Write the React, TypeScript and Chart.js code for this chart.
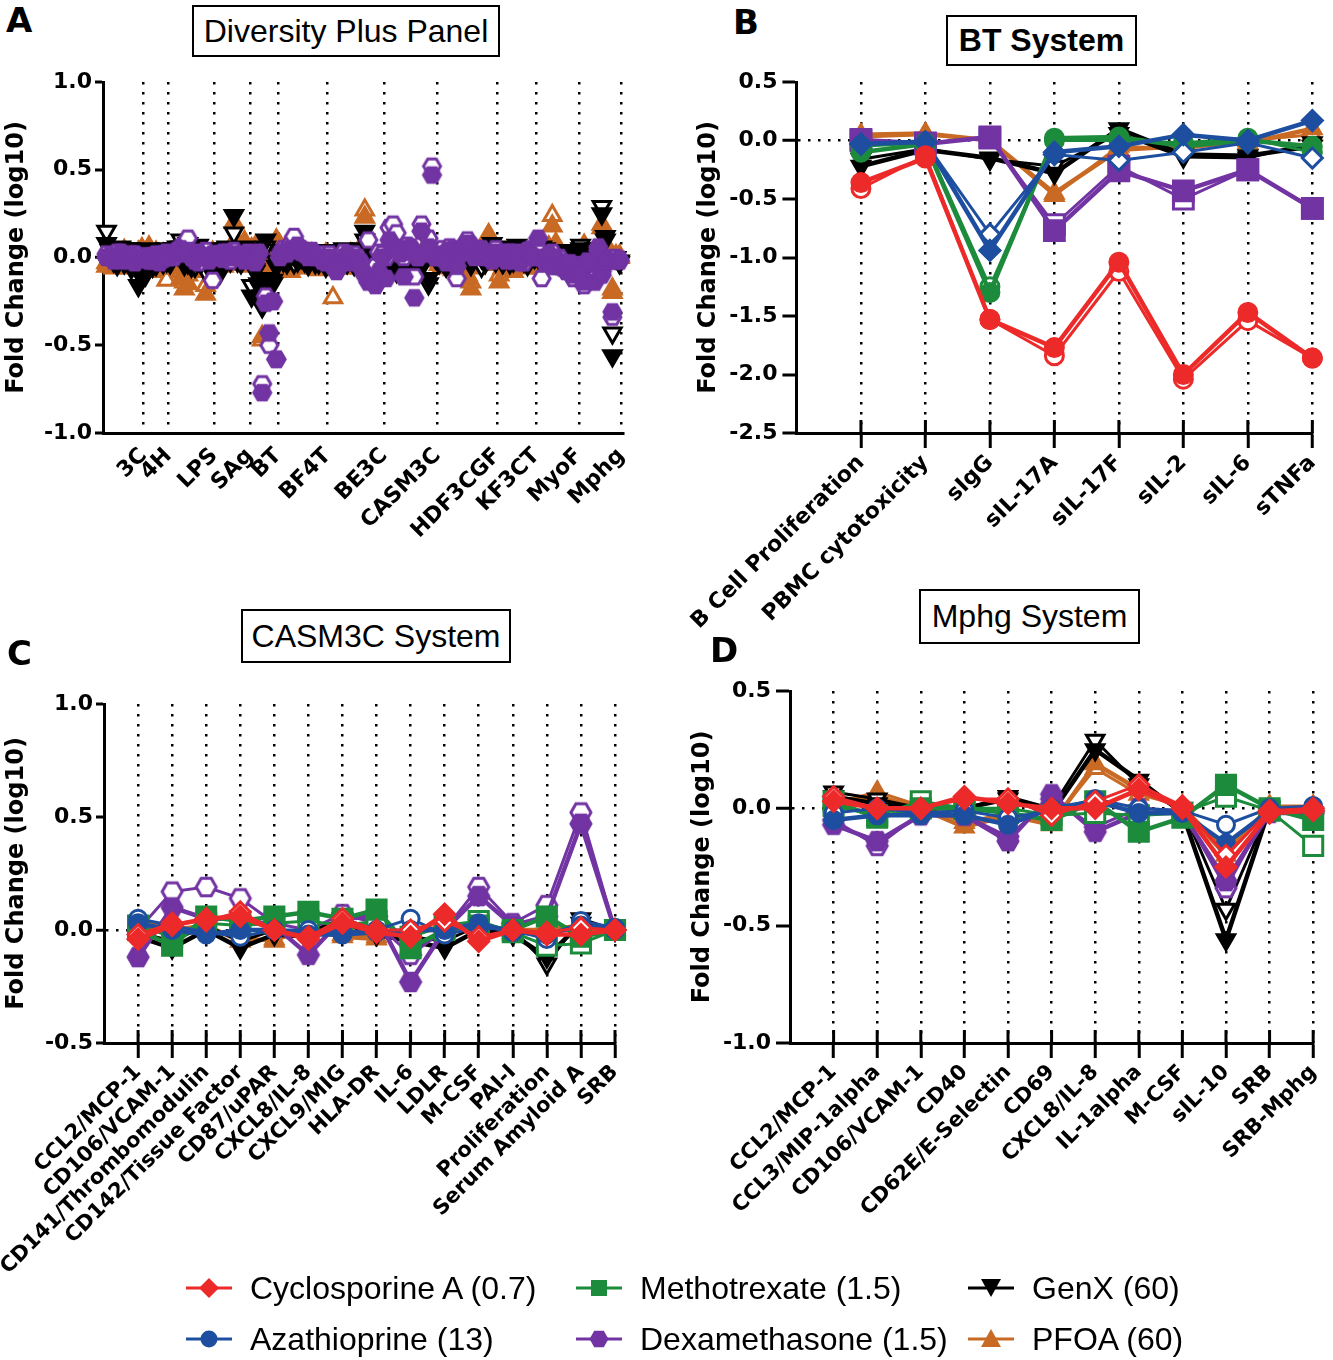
import React, { useEffect, useRef } from 'react';
import { Chart, registerables } from 'chart.js';
Chart.register(...registerables);

const RED = '#ED2A2A';
const BLUE = '#1D4E9F';
const GREEN = '#1C8B3B';
const PURPLE = '#7233A3';
const BLACK = '#000000';
const ORANGE = '#C96A24';

// ---------- categories ----------
const A_SYSTEMS = ['3C', '4H', 'LPS', 'SAg', 'BT', 'BF4T', 'BE3C', 'CASM3C', 'HDF3CGF', 'KF3CT', 'MyoF', 'Mphg'];
const B_CATS = ['B Cell Proliferation', 'PBMC cytotoxicity', 'sIgG', 'sIL-17A', 'sIL-17F', 'sIL-2', 'sIL-6', 'sTNFa'];
const C_CATS = ['CCL2/MCP-1', 'CD106/VCAM-1', 'CD141/Thrombomodulin', 'CD142/Tissue Factor', 'CD87/uPAR', 'CXCL8/IL-8', 'CXCL9/MIG', 'HLA-DR', 'IL-6', 'LDLR', 'M-CSF', 'PAI-I', 'Proliferation', 'Serum Amyloid A', 'SRB'];
const D_CATS = ['CCL2/MCP-1', 'CCL3/MIP-1alpha', 'CD106/VCAM-1', 'CD40', 'CD62E/E-Selectin', 'CD69', 'CXCL8/IL-8', 'IL-1alpha', 'M-CSF', 'sIL-10', 'SRB', 'SRB-Mphg'];

const Y_A = [-1.0, 1.0];
const Y_B = [-2.5, 0.5];
const Y_C = [-0.5, 1.0];
const Y_D = [-1.0, 0.5];

// ---------- BT system (F = filled replicate, O = open replicate) ----------
const BT_CSA_F = [-0.36, -0.15, -1.53, -1.77, -1.04, -2.0, -1.47, -1.86];
const BT_CSA_O = [-0.41, -0.13, -1.53, -1.84, -1.12, -2.04, -1.54, -1.86];
const BT_AZA_F = [-0.03, -0.01, -0.94, -0.1, -0.05, 0.05, 0.0, 0.17];
const BT_AZA_O = [-0.03, -0.02, -0.8, -0.12, -0.17, -0.1, -0.02, -0.15];
const BT_MTX_F = [-0.1, -0.03, -1.3, 0.02, 0.03, -0.05, 0.0, -0.05];
const BT_MTX_O = [-0.05, -0.02, -1.25, 0.0, 0.0, -0.02, 0.02, -0.1];
const BT_DEX_F = [0.0, -0.03, 0.03, -0.77, -0.26, -0.43, -0.25, -0.58];
const BT_DEX_O = [0.01, -0.02, 0.02, -0.72, -0.22, -0.5, -0.25, -0.58];
const BT_GENX_F = [-0.22, -0.08, -0.15, -0.28, 0.1, -0.12, -0.13, -0.05];
const BT_GENX_O = [-0.16, -0.07, -0.16, -0.22, 0.06, -0.14, -0.15, -0.02];
const BT_PFOA_F = [0.05, 0.06, 0.0, -0.45, -0.08, -0.05, -0.02, 0.1];
const BT_PFOA_O = [0.03, 0.05, 0.0, -0.47, -0.05, -0.07, 0.0, 0.05];

// ---------- CASM3C system ----------
const CAS_CSA_F = [-0.04, 0.02, 0.05, 0.06, 0.0, -0.04, 0.03, -0.01, -0.03, 0.07, -0.05, 0.0, -0.02, -0.02, 0.0];
const CAS_CSA_O = [-0.02, 0.03, 0.04, 0.08, 0.0, -0.03, 0.05, 0.0, 0.0, 0.04, -0.03, 0.0, -0.01, 0.01, 0.0];
const CAS_AZA_F = [0.03, 0.0, -0.02, 0.0, 0.0, -0.02, -0.02, -0.01, 0.0, 0.0, 0.03, -0.01, -0.02, 0.02, 0.0];
const CAS_AZA_O = [0.05, 0.02, -0.01, -0.03, 0.0, 0.0, -0.01, 0.0, 0.05, -0.02, 0.01, 0.0, -0.04, 0.04, 0.01];
const CAS_MTX_F = [0.0, -0.07, 0.06, 0.04, 0.06, 0.08, 0.05, 0.09, -0.08, 0.0, 0.02, 0.0, 0.06, -0.03, 0.0];
const CAS_MTX_O = [0.02, -0.03, 0.03, 0.02, 0.03, 0.04, 0.02, 0.04, -0.03, 0.02, 0.04, -0.01, -0.07, -0.06, 0.0];
const CAS_DEX_F = [-0.12, 0.1, 0.05, 0.05, 0.02, -0.11, 0.05, 0.06, -0.23, 0.0, 0.15, 0.02, 0.06, 0.47, 0.0];
const CAS_DEX_O = [0.0, 0.17, 0.19, 0.14, 0.03, 0.0, 0.07, 0.03, -0.11, 0.0, 0.19, 0.03, 0.11, 0.52, 0.0];
const CAS_GENX_F = [-0.03, -0.08, 0.0, -0.08, -0.02, -0.03, 0.03, -0.02, -0.05, -0.08, 0.0, -0.02, -0.12, 0.03, 0.0];
const CAS_GENX_O = [-0.01, -0.05, 0.02, -0.05, 0.0, -0.01, 0.05, 0.0, -0.03, -0.05, 0.02, 0.0, -0.15, 0.05, 0.0];
const CAS_PFOA_F = [0.03, 0.0, 0.02, -0.05, -0.04, 0.0, -0.03, -0.04, 0.0, 0.0, 0.0, 0.0, 0.0, 0.02, 0.0];
const CAS_PFOA_O = [0.04, 0.01, 0.0, -0.03, -0.05, 0.01, -0.02, -0.03, 0.01, 0.01, 0.02, -0.01, 0.01, 0.0, 0.0];

// ---------- Mphg system ----------
const MPH_CSA_F = [0.03, 0.0, 0.0, 0.05, 0.02, 0.0, 0.0, 0.08, 0.0, -0.25, -0.02, -0.01];
const MPH_CSA_O = [0.05, 0.0, 0.0, 0.04, 0.04, -0.03, 0.03, 0.1, 0.01, -0.2, -0.01, 0.0];
const MPH_AZA_F = [-0.05, -0.03, -0.03, -0.03, -0.07, 0.0, 0.03, -0.02, -0.02, -0.15, -0.01, 0.0];
const MPH_AZA_O = [-0.02, 0.0, -0.02, -0.01, -0.04, -0.01, 0.04, 0.0, -0.01, -0.07, 0.0, 0.01];
const MPH_MTX_F = [0.03, -0.04, 0.0, 0.0, -0.02, -0.05, 0.03, -0.1, -0.04, 0.1, 0.0, -0.05];
const MPH_MTX_O = [0.01, -0.03, 0.03, 0.0, 0.0, -0.03, -0.02, -0.03, -0.02, 0.05, -0.01, -0.16];
const MPH_DEX_F = [-0.07, -0.14, -0.03, -0.03, -0.14, 0.06, -0.1, -0.02, -0.02, -0.31, -0.02, -0.02];
const MPH_DEX_O = [-0.05, -0.16, -0.02, -0.03, -0.12, 0.04, -0.08, 0.0, -0.01, -0.34, 0.0, -0.01];
const MPH_GENX_F = [0.05, 0.02, 0.0, 0.0, 0.04, -0.02, 0.25, 0.12, -0.02, -0.56, 0.0, -0.03];
const MPH_GENX_O = [0.07, 0.04, 0.0, 0.0, 0.05, 0.0, 0.29, 0.1, 0.0, -0.43, 0.0, -0.02];
const MPH_PFOA_F = [0.03, 0.05, 0.0, -0.08, -0.03, -0.07, 0.19, 0.08, 0.0, -0.2, 0.0, 0.0];
const MPH_PFOA_O = [0.02, 0.07, 0.01, -0.06, -0.02, -0.06, 0.17, 0.06, 0.01, -0.18, 0.01, 0.01];

// ---------- Diversity Plus panel (one list per system, in A_SYSTEMS order) ----------
const DIV_DEX_F = [
  [0.0, 0.01, -0.02, 0.0, 0.03, -0.01, 0.0, 0.02, -0.03, 0.0, -0.01],
  [0.0, -0.02, 0.01, 0.0, -0.03, 0.02, 0.0],
  [0.0, 0.02, 0.03, 0.05, 0.02, 0.04, 0.0, -0.02, 0.03, 0.01, 0.0, -0.02, 0.02],
  [0.0, 0.02, -0.01, 0.03, 0.0, 0.02, 0.01, 0.0, -0.02, 0.02],
  BT_DEX_F,
  [0.0, 0.03, 0.02, 0.05, 0.04, 0.06, 0.03, 0.02, 0.0, 0.03, 0.01, 0.0, -0.02, 0.0],
  [0.0, -0.05, -0.08, -0.04, 0.0, 0.02, -0.03, 0.0, -0.02, -0.06, -0.1, -0.14, -0.12, -0.16, -0.08, 0.0],
  CAS_DEX_F,
  [0.0, 0.02, -0.03, 0.04, 0.05, -0.05, 0.03, 0.06, 0.08, 0.04, 0.0, 0.03, 0.05, 0.02, 0.0, -0.02, 0.03],
  [0.0, 0.02, -0.02, 0.03, 0.0, 0.02, -0.03, 0.0, 0.04, 0.02, 0.0],
  [0.11, 0.0, -0.03, 0.02, -0.05, 0.0, -0.04, -0.06, -0.08, -0.03, -0.1, -0.06],
  MPH_DEX_F,
];
const DIV_DEX_O = [
  [0.02, 0.0, -0.01, 0.03, 0.0, -0.02, 0.01, 0.0, 0.02, -0.01, 0.0],
  [0.01, 0.0, -0.02, 0.02, 0.0, -0.01, 0.03],
  [0.02, 0.0, 0.04, 0.06, 0.03, 0.11, 0.02, 0.0, -0.03, 0.02, 0.04, 0.0, -0.13],
  [0.02, 0.0, 0.03, 0.0, -0.02, 0.04, 0.0, 0.02, 0.0, 0.03],
  BT_DEX_O,
  [0.02, 0.05, 0.04, 0.08, 0.12, 0.07, 0.05, 0.03, 0.02, 0.04, 0.0, 0.02, 0.0, -0.03],
  [0.02, -0.02, -0.05, 0.0, 0.03, 0.0, -0.02, 0.02, 0.0, -0.03, -0.08, 0.1, -0.1, -0.05, 0.03, 0.02],
  CAS_DEX_O,
  [0.03, 0.05, 0.0, 0.06, 0.03, -0.12, 0.02, 0.05, 0.1, 0.07, 0.02, 0.05, 0.04, 0.0, 0.02, 0.0, 0.05],
  [0.02, 0.0, 0.03, 0.0, -0.02, 0.03, 0.0, -0.03, 0.02, 0.05, 0.0],
  [0.05, -0.12, 0.0, -0.02, 0.03, -0.05, 0.0, -0.03, -0.07, -0.05, -0.12, -0.04],
  MPH_DEX_O,
];
const DIV_GENX_F = [
  [0.08, 0.05, 0.0, -0.04, 0.03, -0.02, 0.05, -0.06, 0.02, -0.16, -0.1],
  [-0.1, 0.04, -0.05, 0.02, 0.0, -0.03, 0.05],
  [-0.03, 0.05, 0.02, 0.06, -0.04, 0.08, -0.05, 0.03, 0.07, -0.02, 0.04, -0.06, 0.02],
  [-0.04, -0.09, 0.03, 0.05, -0.02, 0.24, 0.05, -0.03, 0.06, 0.0],
  BT_GENX_F,
  [0.04, 0.0, -0.03, 0.02, 0.05, -0.02, 0.0, 0.03, -0.04, 0.02, 0.0, -0.03, 0.02, -0.05],
  [0.02, -0.03, 0.0, 0.04, -0.02, 0.03, 0.0, -0.04, 0.02, 0.05, 0.15, -0.08, 0.03, -0.05, 0.0, 0.03],
  CAS_GENX_F,
  [-0.03, 0.02, -0.05, 0.0, 0.03, -0.06, 0.02, 0.0, 0.05, -0.04, 0.02, 0.06, 0.0, -0.03, 0.05, 0.08, 0.02],
  [0.04, 0.0, 0.06, -0.03, 0.02, 0.07, 0.03, -0.02, 0.05, 0.0, 0.02],
  [0.03, 0.06, -0.02, 0.0, 0.04, -0.03, 0.02, 0.0, -0.04, 0.03, -0.02, 0.0],
  MPH_GENX_F,
];
const DIV_GENX_O = [
  [0.15, 0.04, -0.02, 0.0, 0.06, -0.03, 0.02, 0.05, -0.04, -0.08, 0.03],
  [-0.03, 0.05, 0.0, -0.04, 0.03, 0.0, -0.02],
  [0.0, 0.03, 0.06, 0.1, 0.02, -0.03, 0.05, -0.05, 0.04, 0.0, -0.08, 0.03, 0.05],
  [0.02, -0.05, 0.0, 0.06, 0.03, 0.14, -0.02, 0.04, 0.0, 0.05],
  BT_GENX_O,
  [0.02, -0.02, 0.03, 0.0, -0.03, 0.04, 0.02, -0.02, 0.0, 0.03, -0.03, 0.0, 0.04, -0.02],
  [0.0, 0.03, -0.02, 0.0, 0.05, -0.03, 0.02, 0.0, -0.05, 0.03, 0.1, -0.04, 0.0, -0.06, 0.02, 0.0],
  CAS_GENX_O,
  [0.0, -0.02, 0.03, -0.04, 0.0, 0.02, -0.03, 0.04, 0.0, -0.02, 0.03, 0.0, -0.05, 0.02, 0.0, 0.04, -0.02],
  [0.02, -0.03, 0.04, 0.0, -0.02, 0.05, 0.0, 0.03, -0.04, 0.02, 0.0],
  [0.0, 0.03, 0.05, -0.03, 0.0, 0.02, -0.02, 0.04, 0.0, -0.03, 0.02, -0.05],
  MPH_GENX_O,
];
const DIV_PFOA_F = [
  [-0.05, 0.02, -0.06, 0.0, -0.03, 0.04, -0.05, 0.0, -0.04, 0.03, -0.02],
  [-0.05, 0.06, -0.08, 0.0, -0.04, 0.02, -0.06],
  [-0.04, 0.03, -0.06, -0.12, -0.18, -0.15, 0.0, -0.05, 0.02, -0.08, -0.21, -0.04, 0.0],
  [-0.03, 0.0, -0.05, 0.02, -0.04, 0.2, 0.08, 0.06, 0.09, -0.03],
  BT_PFOA_F,
  [0.07, -0.05, 0.02, -0.08, 0.03, -0.04, 0.0, -0.06, 0.02, -0.05, 0.0, -0.07, -0.03, 0.02],
  [-0.03, -0.05, -0.02, 0.0, -0.04, -0.06, 0.02, -0.03, 0.0, -0.05, 0.23, -0.04, -0.06, 0.0, -0.03, 0.02],
  CAS_PFOA_F,
  [-0.04, 0.0, -0.06, -0.02, 0.03, -0.05, 0.0, -0.08, -0.12, -0.18, -0.06, 0.0, -0.03, 0.05, 0.13, -0.02, 0.0],
  [-0.14, -0.06, 0.0, -0.04, -0.08, -0.02, 0.03, -0.05, 0.0, -0.03, 0.05],
  [-0.06, 0.0, -0.04, 0.06, 0.18, 0.08, -0.03, -0.05, 0.0, -0.04, -0.08, -0.02],
  MPH_PFOA_F,
];
const DIV_PFOA_O = [
  [-0.03, 0.0, -0.05, 0.02, -0.04, 0.0, -0.06, 0.02, -0.03, 0.0, 0.05],
  [-0.02, 0.0, -0.05, 0.03, -0.04, 0.0, -0.13],
  [-0.02, 0.0, -0.05, -0.08, -0.14, -0.1, 0.02, -0.03, 0.0, -0.06, -0.16, -0.02, 0.03],
  [0.0, -0.04, 0.02, -0.02, 0.03, 0.09, 0.05, 0.0, 0.07, -0.05],
  BT_PFOA_O,
  [0.05, -0.03, 0.0, -0.06, 0.02, -0.02, -0.05, 0.0, -0.04, 0.02, -0.06, 0.0, -0.02, -0.04],
  [-0.05, -0.23, 0.0, -0.03, -0.06, 0.0, -0.04, -0.02, 0.03, -0.06, 0.27, -0.02, -0.05, -0.03, 0.0, -0.04],
  CAS_PFOA_O,
  [-0.02, -0.05, 0.0, -0.04, -0.07, 0.02, -0.03, -0.05, -0.1, -0.14, -0.04, 0.02, 0.0, 0.08, 0.1, -0.04, -0.02],
  [-0.1, -0.04, -0.06, 0.0, -0.05, 0.02, -0.03, 0.0, -0.06, -0.02, 0.03],
  [-0.03, -0.05, 0.02, -0.02, 0.24, 0.05, 0.0, -0.06, -0.03, 0.0, -0.05, 0.02],
  MPH_PFOA_O,
];

// ---------- helpers ----------
const YTICK_FONT = { family: 'DejaVu Sans', weight: 'bold', size: 22 };
const XTICK_FONT_L = { family: 'DejaVu Sans', weight: 'bold', size: 22 };
const XTICK_FONT_S = { family: 'DejaVu Sans', weight: 'bold', size: 21 };
const TITLE_FONT = { family: 'DejaVu Sans', weight: 'bold', size: 24 };
const DOT = [2.5, 7.5];

function hexCanvas(color: string, filled: boolean, size: number) {
  const s = Math.ceil(size + 6);
  const c = document.createElement('canvas');
  c.width = s; c.height = s;
  const g = c.getContext('2d') as CanvasRenderingContext2D;
  const r = size / 2;
  const cx = s / 2, cy = s / 2;
  g.beginPath();
  for (let k = 0; k < 6; k++) {
    const a = (k * Math.PI) / 3;
    const px = cx + r * Math.cos(a);
    const py = cy + r * Math.sin(a);
    if (k === 0) g.moveTo(px, py); else g.lineTo(px, py);
  }
  g.closePath();
  g.fillStyle = filled ? color : '#ffffff';
  g.fill();
  g.lineWidth = 3;
  g.strokeStyle = color;
  g.stroke();
  return c;
}

function markerOpts(shape: string, color: string, filled: boolean, size: number) {
  const base: any = {
    pointBackgroundColor: filled ? color : '#ffffff',
    pointBorderColor: color,
    pointBorderWidth: 3,
    pointRadius: size,
    pointRotation: 0,
  };
  if (shape === 'hex') { base.pointStyle = hexCanvas(color, filled, size * 2); }
  else if (shape === 'triDown') { base.pointStyle = 'triangle'; base.pointRotation = 180; }
  else if (shape === 'tri') { base.pointStyle = 'triangle'; }
  else base.pointStyle = shape;
  return base;
}

function lineDs(vals: number[], color: string, shape: string, size: number, filled: boolean, width: number) {
  return {
    data: vals.map((v, i) => ({ x: i, y: v })),
    showLine: true,
    borderColor: color,
    borderWidth: width,
    tension: 0,
    clip: false,
    ...markerOpts(shape, color, filled, size),
  };
}

function scatterDs(groups: number[][], color: string, shape: string, size: number, filled: boolean) {
  const pts: any[] = [];
  let x = 1;
  groups.forEach((g) => g.forEach((v) => { pts.push({ x, y: v }); x += 1; }));
  return { data: pts, showLine: false, clip: false, ...markerOpts(shape, color, filled, size) };
}

function yScale(range: number[], width: number, tickLen: number, tickPad: number, titlePad: number) {
  return {
    type: 'linear', position: 'left', min: range[0], max: range[1],
    ticks: { stepSize: 0.5, callback: (v: any) => Number(v).toFixed(1), color: '#000', font: YTICK_FONT, padding: tickPad },
    grid: {
      color: '#000',
      lineWidth: (ctx: any) => (ctx.tick && Math.abs(ctx.tick.value) < 1e-9 ? 2.5 : 0),
      drawTicks: true, tickLength: tickLen, tickWidth: 3, tickColor: '#000',
    },
    border: { display: true, color: '#000', width: 3, dash: DOT },
    title: { display: true, text: 'Fold Change (log10)', color: '#000', font: TITLE_FONT, padding: { top: titlePad, bottom: 0 } },
    afterFit: (s: any) => { s.width = width; },
  };
}

function xCatScale(cats: string[], height: number, font: any) {
  return {
    type: 'linear', position: 'bottom', min: -1, max: cats.length - 1,
    afterBuildTicks: (s: any) => { s.ticks = cats.map((_, i) => ({ value: i })); },
    ticks: { autoSkip: false, minRotation: 45, maxRotation: 45, callback: (_v: any, i: number) => cats[i], color: '#000', font, padding: 2 },
    grid: { color: '#000', lineWidth: 2.5, drawTicks: true, tickLength: 15, tickWidth: 3, tickColor: '#000' },
    border: { display: true, color: '#000', width: 3, dash: DOT },
    afterFit: (s: any) => { s.height = height; },
  };
}

const crossTicks = {
  id: 'crossTicks',
  beforeDatasetsDraw(chart: any, _a: any, opts: any) {
    if (!opts || !opts.len) return;
    const xs = chart.scales.x;
    const { ctx, chartArea } = chart;
    ctx.save();
    ctx.strokeStyle = '#000';
    ctx.lineWidth = 3;
    xs.ticks.forEach((t: any) => {
      const px = xs.getPixelForValue(t.value);
      ctx.beginPath();
      ctx.moveTo(px, chartArea.bottom);
      ctx.lineTo(px, chartArea.bottom - opts.len);
      ctx.stroke();
    });
    ctx.restore();
  },
};

function baseOptions(padding: any, scales: any, cross: number) {
  return {
    responsive: false,
    animation: false,
    events: [],
    layout: { padding, autoPadding: false },
    plugins: { legend: { display: false }, tooltip: { enabled: false }, crossTicks: { len: cross } },
    scales,
  };
}

// ---------- panel configs ----------
function buildA() {
  const total = DIV_DEX_F.reduce((s, g) => s + g.length, 0);
  const bounds: number[] = [];
  let cum = 0;
  DIV_DEX_F.forEach((g) => { cum += g.length; bounds.push(cum + 0.5); });
  const datasets = [
    scatterDs(DIV_DEX_F, PURPLE, 'hex', 8.5, true),
    scatterDs(DIV_DEX_O, PURPLE, 'hex', 8.5, false),
    scatterDs(DIV_GENX_F, BLACK, 'triDown', 10, true),
    scatterDs(DIV_GENX_O, BLACK, 'triDown', 10, false),
    scatterDs(DIV_PFOA_F, ORANGE, 'tri', 10, true),
    scatterDs(DIV_PFOA_O, ORANGE, 'tri', 10, false),
  ];
  const x = {
    type: 'linear', position: 'bottom', min: 0, max: total + 1,
    afterBuildTicks: (s: any) => { s.ticks = bounds.map((b) => ({ value: b })); },
    ticks: { autoSkip: false, minRotation: 45, maxRotation: 45, callback: (_v: any, i: number) => A_SYSTEMS[i], color: '#000', font: XTICK_FONT_L, padding: 10 },
    grid: { color: '#000', lineWidth: 2.5, drawTicks: false },
    border: { display: true, color: '#000', width: 3, dash: DOT },
    afterFit: (s: any) => { s.height = 127; },
  };
  return {
    type: 'scatter',
    data: { datasets },
    options: baseOptions({ left: 0, right: 18, top: 22, bottom: 0 }, { x, y: yScale(Y_A, 103, 8, 3, 2) }, 0),
    plugins: [crossTicks],
  };
}

function linePanel(series: any[], cats: string[], yRange: number[], padding: any, yWidth: number, yTick: number, yPad: number, titlePad: number, xHeight: number, xFont: any) {
  const datasets = series.map((s) => lineDs(s[0], s[1], s[2], s[3], s[4], s[4] ? 4.5 : 3));
  return {
    type: 'scatter',
    data: { datasets },
    options: baseOptions(padding, { x: xCatScale(cats, xHeight, xFont), y: yScale(yRange, yWidth, yTick, yPad, titlePad) }, 13),
    plugins: [crossTicks],
  };
}

function buildB() {
  const series = [
    [BT_CSA_F, RED, 'circle', 9, true], [BT_CSA_O, RED, 'circle', 9, false],
    [BT_AZA_F, BLUE, 'rectRot', 10, true], [BT_AZA_O, BLUE, 'rectRot', 10, false],
    [BT_MTX_F, GREEN, 'circle', 9, true], [BT_MTX_O, GREEN, 'circle', 9, false],
    [BT_DEX_F, PURPLE, 'rect', 14, true], [BT_DEX_O, PURPLE, 'rect', 14, false],
    [BT_GENX_F, BLACK, 'triDown', 10, true], [BT_GENX_O, BLACK, 'triDown', 10, false],
    [BT_PFOA_F, ORANGE, 'tri', 10, true], [BT_PFOA_O, ORANGE, 'tri', 10, false],
  ];
  return linePanel(series, B_CATS, Y_B, { left: 0, right: 16, top: 22, bottom: 0 }, 110, 14, 5, 8, 217, XTICK_FONT_L);
}

function buildC() {
  const series = [
    [CAS_CSA_F, RED, 'rectRot', 10, true], [CAS_CSA_O, RED, 'rectRot', 10, false],
    [CAS_AZA_F, BLUE, 'circle', 8.5, true], [CAS_AZA_O, BLUE, 'circle', 8.5, false],
    [CAS_MTX_F, GREEN, 'rect', 13.5, true], [CAS_MTX_O, GREEN, 'rect', 13.5, false],
    [CAS_DEX_F, PURPLE, 'hex', 10, true], [CAS_DEX_O, PURPLE, 'hex', 10, false],
    [CAS_GENX_F, BLACK, 'triDown', 10, true], [CAS_GENX_O, BLACK, 'triDown', 10, false],
    [CAS_PFOA_F, ORANGE, 'tri', 10, true], [CAS_PFOA_O, ORANGE, 'tri', 10, false],
  ];
  return linePanel(series, C_CATS, Y_C, { left: 0, right: 35, top: 40, bottom: 0 }, 104, 8, 3, 2, 241, XTICK_FONT_S);
}

function buildD() {
  const series = [
    [MPH_CSA_F, RED, 'rectRot', 10, true], [MPH_CSA_O, RED, 'rectRot', 10, false],
    [MPH_AZA_F, BLUE, 'circle', 8.5, true], [MPH_AZA_O, BLUE, 'circle', 8.5, false],
    [MPH_MTX_F, GREEN, 'rect', 13.5, true], [MPH_MTX_O, GREEN, 'rect', 13.5, false],
    [MPH_DEX_F, PURPLE, 'hex', 10, true], [MPH_DEX_O, PURPLE, 'hex', 10, false],
    [MPH_GENX_F, BLACK, 'triDown', 10, true], [MPH_GENX_O, BLACK, 'triDown', 10, false],
    [MPH_PFOA_F, ORANGE, 'tri', 10, true], [MPH_PFOA_O, ORANGE, 'tri', 10, false],
  ];
  return linePanel(series, D_CATS, Y_D, { left: 0, right: 15, top: 27, bottom: 0 }, 110, 14, 5, 8, 241, XTICK_FONT_S);
}

// ---------- components ----------
function ChartCanvas({ build, left, top, width, height }: any) {
  const ref = useRef<HTMLCanvasElement>(null);
  useEffect(() => {
    const chart = new Chart(ref.current as HTMLCanvasElement, build());
    return () => chart.destroy();
  }, []);
  return <canvas ref={ref} width={width} height={height} style={{ position: 'absolute', left, top, width, height }} />;
}

function TitleBox({ text, left, top, width, height, bold }: any) {
  return (
    <div style={{
      position: 'absolute', left, top, width, height, boxSizing: 'border-box', border: '2px solid #000',
      display: 'flex', alignItems: 'center', justifyContent: 'center', background: '#fff',
      fontFamily: '"Liberation Sans", Arial, sans-serif', fontSize: 32, fontWeight: bold ? 'bold' : 'normal', color: '#000', zIndex: 2,
    }}>{text}</div>
  );
}

function Letter({ ch, left, top }: any) {
  return (
    <div style={{ position: 'absolute', left, top, fontFamily: '"DejaVu Sans", sans-serif', fontWeight: 'bold', fontSize: 34, lineHeight: '34px', color: '#000', zIndex: 2 }}>{ch}</div>
  );
}

function Icon({ shape, color }: any) {
  let mark: any = null;
  if (shape === 'diamond') mark = <polygon points="24,5 34,15 24,25 14,15" fill={color} />;
  else if (shape === 'circle') mark = <circle cx={24} cy={15} r={8.5} fill={color} />;
  else if (shape === 'square') mark = <rect x={16} y={7} width={16} height={16} fill={color} />;
  else if (shape === 'hex') mark = <polygon points="33.5,15 28.75,23.2 19.25,23.2 14.5,15 19.25,6.8 28.75,6.8" fill={color} />;
  else if (shape === 'triDown') mark = <polygon points="14,6 34,6 24,24" fill={color} />;
  else if (shape === 'tri') mark = <polygon points="24,5 34,23 14,23" fill={color} />;
  return (
    <svg width={48} height={30} style={{ position: 'absolute', left: 0, top: 0 }}>
      <line x1={1} y1={15} x2={47} y2={15} stroke={color} strokeWidth={3} />
      {mark}
    </svg>
  );
}

const LEGEND_ITEMS = [
  { label: 'Cyclosporine A (0.7)', color: RED, shape: 'diamond', col: 0, row: 0 },
  { label: 'Azathioprine (13)', color: BLUE, shape: 'circle', col: 0, row: 1 },
  { label: 'Methotrexate (1.5)', color: GREEN, shape: 'square', col: 1, row: 0 },
  { label: 'Dexamethasone (1.5)', color: PURPLE, shape: 'hex', col: 1, row: 1 },
  { label: 'GenX (60)', color: BLACK, shape: 'triDown', col: 2, row: 0 },
  { label: 'PFOA (60)', color: ORANGE, shape: 'tri', col: 2, row: 1 },
];
const LEGEND_COL_X = [185, 575, 967];
const LEGEND_ROW_Y = [1288, 1339];

function Legend() {
  return (
    <>
      {LEGEND_ITEMS.map((it) => (
        <div key={it.label} style={{ position: 'absolute', left: LEGEND_COL_X[it.col], top: LEGEND_ROW_Y[it.row] - 15, height: 30, width: 400, zIndex: 3 }}>
          <Icon shape={it.shape} color={it.color} />
          <div style={{ position: 'absolute', left: 65, top: -3, fontFamily: '"Liberation Sans", Arial, sans-serif', fontSize: 32, lineHeight: '36px', color: '#000', whiteSpace: 'nowrap' }}>{it.label}</div>
        </div>
      ))}
    </>
  );
}

export default function App() {
  return (
    <div style={{ position: 'absolute', left: 0, top: 0, width: 1333, height: 1360, background: '#fff', overflow: 'hidden' }}>
      <ChartCanvas build={buildA} left={0} top={60} width={650} height={500} />
      <ChartCanvas build={buildB} left={680} top={60} width={653} height={590} />
      <ChartCanvas build={buildC} left={0} top={664} width={650} height={620} />
      <ChartCanvas build={buildD} left={680} top={664} width={653} height={620} />
      <TitleBox text="Diversity Plus Panel" left={192} top={5} width={308} height={52} />
      <TitleBox text="BT System" left={946} top={15} width={191} height={51} bold />
      <TitleBox text="CASM3C System" left={241} top={609} width={270} height={54} />
      <TitleBox text="Mphg System" left={919} top={589} width={221} height={55} />
      <Letter ch="A" left={6} top={3} />
      <Letter ch="B" left={733} top={5} />
      <Letter ch="C" left={7} top={636} />
      <Letter ch="D" left={710} top={633} />
      <Legend />
    </div>
  );
}
